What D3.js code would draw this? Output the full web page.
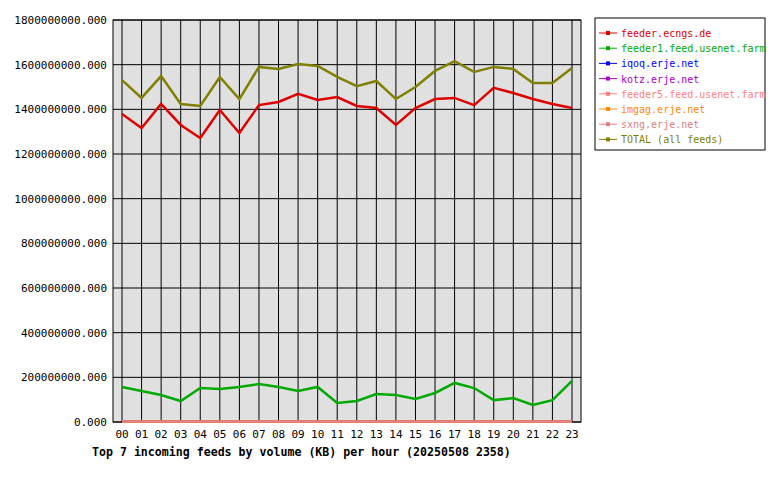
<!DOCTYPE html>
<html><head><meta charset="utf-8">
<script src="https://cdn.jsdelivr.net/npm/d3@7"></script>
<style>body{margin:0;background:#fff}svg{font-family:"DejaVu Sans Mono",monospace}</style>
</head><body><svg id="c" width="780" height="480"></svg>
<script>
const hours=["00","01","02","03","04","05","06","07","08","09","10","11","12","13","14","15","16","17","18","19","20","21","22","23"];
const yTicks=[0,2e8,4e8,6e8,8e8,10e8,12e8,14e8,16e8,18e8];
const feederEcngs=[1.379,1.316,1.424,1.33,1.272,1.397,1.294,1.419,1.433,1.469,1.442,1.455,1.415,1.406,1.33,1.406,1.446,1.451,1.419,1.496,1.473,1.446,1.424,1.406].map(v=>v*1e9);
const feeder1=[0.157,0.139,0.121,0.094,0.152,0.148,0.157,0.170,0.157,0.139,0.157,0.085,0.094,0.125,0.121,0.103,0.130,0.175,0.152,0.098,0.107,0.076,0.098,0.184].map(v=>v*1e9);
const iqoq=hours.map(()=>1e6), kotz=hours.map(()=>1e6), feeder5=hours.map(()=>1e6), imgag=hours.map(()=>1e6), sxng=hours.map(()=>2e6);
const total=[1.531,1.451,1.549,1.424,1.415,1.545,1.446,1.590,1.581,1.603,1.594,1.545,1.504,1.527,1.446,1.500,1.572,1.616,1.567,1.590,1.581,1.518,1.518,1.585].map(v=>v*1e9);
const series=[
 {name:"feeder.ecngs.de",color:"#dd0000",v:feederEcngs},
 {name:"feeder1.feed.usenet.farm",color:"#00aa00",v:feeder1},
 {name:"iqoq.erje.net",color:"#0000ff",v:iqoq},
 {name:"kotz.erje.net",color:"#aa00cc",v:kotz},
 {name:"feeder5.feed.usenet.farm",color:"#ff8080",v:feeder5},
 {name:"imgag.erje.net",color:"#ff8800",v:imgag},
 {name:"sxng.erje.net",color:"#e08080",v:sxng},
 {name:"TOTAL (all feeds)",color:"#808000",v:total}];
const svg=d3.select("#c");
const L=113,R=581,T=20,B=422;
const x=d3.scalePoint().domain(hours).range([122,572]);
const y=d3.scaleLinear().domain([0,18e8]).range([B,T]);
svg.append("rect").attr("x",L).attr("y",T).attr("width",R-L).attr("height",B-T).attr("fill","#e0e0e0");
hours.forEach(h=>svg.append("line").attr("x1",x(h)).attr("x2",x(h)).attr("y1",T).attr("y2",B).attr("stroke","#000"));
yTicks.forEach(t=>{svg.append("line").attr("x1",L).attr("x2",R).attr("y1",y(t)).attr("y2",y(t)).attr("stroke","#000");
 svg.append("text").attr("x",L-6).attr("y",y(t)+4).attr("text-anchor","end").attr("font-size",11).text(t.toFixed(3));});
svg.append("rect").attr("x",L).attr("y",T).attr("width",R-L).attr("height",B-T).attr("fill","none").attr("stroke","#000");
hours.forEach(h=>svg.append("text").attr("x",x(h)).attr("y",438).attr("text-anchor","middle").attr("font-size",11).text(h));
const line=d3.line().x((d,i)=>x(hours[i])).y(d=>y(d));
series.forEach(s=>svg.append("path").attr("d",line(s.v)).attr("fill","none").attr("stroke",s.color).attr("stroke-width",2.5));
svg.append("text").attr("x",92).attr("y",456).attr("font-size",11.6).attr("font-weight","bold").text("Top 7 incoming feeds by volume (KB) per hour (20250508 2358)");
svg.append("rect").attr("x",595).attr("y",18).attr("width",170).attr("height",132).attr("fill","#fff").attr("stroke","#000");
series.forEach((s,i)=>{const yy=33+i*15.2;
 svg.append("line").attr("x1",599).attr("x2",617).attr("y1",yy).attr("y2",yy).attr("stroke",s.color).attr("stroke-width",1);
 svg.append("rect").attr("x",606).attr("y",yy-2).attr("width",4).attr("height",4).attr("fill",s.color);
 svg.append("text").attr("x",621).attr("y",yy+4).attr("font-size",10).attr("fill",s.color).text(s.name);});
</script></body></html>
